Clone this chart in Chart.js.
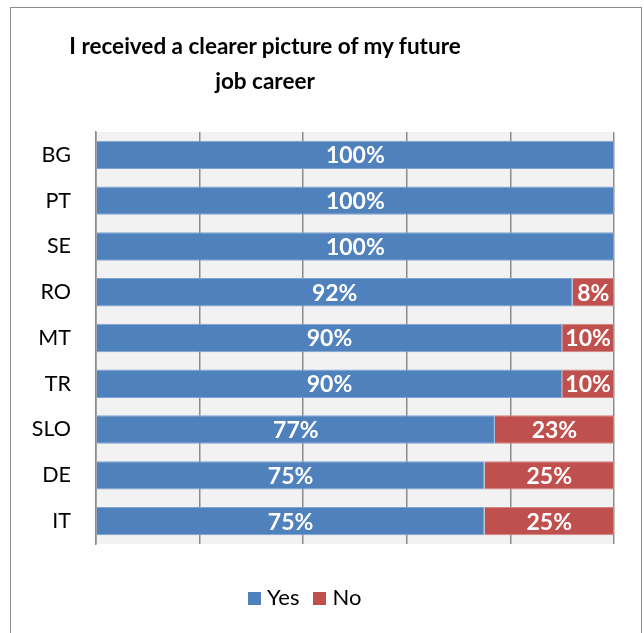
<!DOCTYPE html>
<html>
<head>
<meta charset="utf-8">
<script src="https://cdn.jsdelivr.net/npm/chart.js@4.4.0/dist/chart.umd.min.js"></script>
<style>
  html, body { margin: 0; padding: 0; background: #fff; }
  body { width: 644px; height: 633px; position: relative; overflow: hidden; font-family: Lato, "Open Sans", sans-serif; }
  #frame { position: absolute; left: 10px; top: 7px; width: 630px; height: 700px; border: 1px solid #8c8c8c; }
  #title { position: absolute; left: 0; top: 28px; width: 530px; text-align: center; font-weight: bold; font-size: 22.5px; line-height: 35px; color: #000; }
  #legend { position: absolute; left: 248px; top: 583px; font-size: 22px; color: #000; white-space: nowrap; }
  #legend span.box { display: inline-block; width: 13px; height: 13px; margin-right: 6px; vertical-align: 0px; }
  #legend span.item { margin-right: 14px; }
  #wrap { position: absolute; left: 0; top: 0; width: 644px; height: 633px; }
</style>
</head>
<body>
<div id="frame"></div>
<div id="wrap"><canvas id="chart" width="644" height="633"></canvas></div>
<div id="title">I received a clearer picture of my future<br>job career</div>
<div id="legend"></div>
<script>
// Country codes, top to bottom
const categories = ["BG", "PT", "SE", "RO", "MT", "TR", "SLO", "DE", "IT"];
// Share of answers in percent
const yesValues = [100, 100, 100, 92, 90, 90, 77, 75, 75];
const noValues = [0, 0, 0, 8, 10, 10, 23, 25, 25];
const seriesNames = ["Yes", "No"];
const COLORS = ["#4f81bd", "#c0504d"];

// Build the HTML legend
const legend = document.getElementById("legend");
legend.innerHTML = seriesNames.map((name, i) =>
    `<span class="item"><span class="box" style="background:${COLORS[i]}"></span>${name}</span>`
).join("");

// Light gray plot background
const plotBackground = {
    id: "plotBackground",
    beforeDraw(chart) {
        const { ctx, chartArea: a } = chart;
        ctx.save();
        ctx.fillStyle = "#f2f2f2";
        ctx.fillRect(a.left, a.top, a.right - a.left, a.bottom - a.top);
        ctx.restore();
    }
};

// White percent labels in the middle of each segment
const barLabels = {
    id: "barLabels",
    afterDatasetsDraw(chart) {
        const ctx = chart.ctx;
        ctx.save();
        ctx.fillStyle = "#ffffff";
        ctx.font = "bold 23px Lato, 'Open Sans', sans-serif";
        ctx.textAlign = "center";
        ctx.textBaseline = "middle";
        chart.data.datasets.forEach((ds, di) => {
            const meta = chart.getDatasetMeta(di);
            meta.data.forEach((bar, i) => {
                const v = ds.data[i];
                if (!v) return;
                const cx = (bar.x + bar.base) / 2;
                ctx.fillText(v + "%", cx, bar.y + 1);
            });
        });
        ctx.restore();
    }
};

const ctx = document.getElementById("chart").getContext("2d");
new Chart(ctx, {
    type: "bar",
    data: {
        labels: categories,
        datasets: [
            { label: seriesNames[0], data: yesValues, backgroundColor: COLORS[0], borderColor: "#7fa3d1", borderWidth: 1 },
            { label: seriesNames[1], data: noValues, backgroundColor: COLORS[1], borderColor: "#d48280", borderWidth: 1 }
        ]
    },
    options: {
        indexAxis: "y",
        responsive: false,
        animation: false,
        maintainAspectRatio: false,
        layout: { padding: { left: 0, right: 30, top: 132, bottom: 89 } },
        datasets: { bar: { categoryPercentage: 0.62, barPercentage: 1.0 } },
        plugins: {
            legend: { display: false },
            tooltip: { enabled: false }
        },
        scales: {
            x: {
                stacked: true,
                min: 0,
                max: 100,
                ticks: { display: false, stepSize: 20 },
                grid: { color: "#8c8c8c", lineWidth: 1.5, drawTicks: false },
                border: { display: false },
                afterFit(scale) { scale.height = 0; }
            },
            y: {
                stacked: true,
                ticks: { color: "#000", font: { size: 21.5, family: "Lato, 'Open Sans', sans-serif" }, padding: 25 },
                grid: { display: false, drawTicks: false },
                border: { display: true, color: "#8c8c8c", width: 1.5 },
                afterFit(scale) { scale.width = 96; }
            }
        }
    },
    plugins: [plotBackground, barLabels]
});
</script>
</body>
</html>
